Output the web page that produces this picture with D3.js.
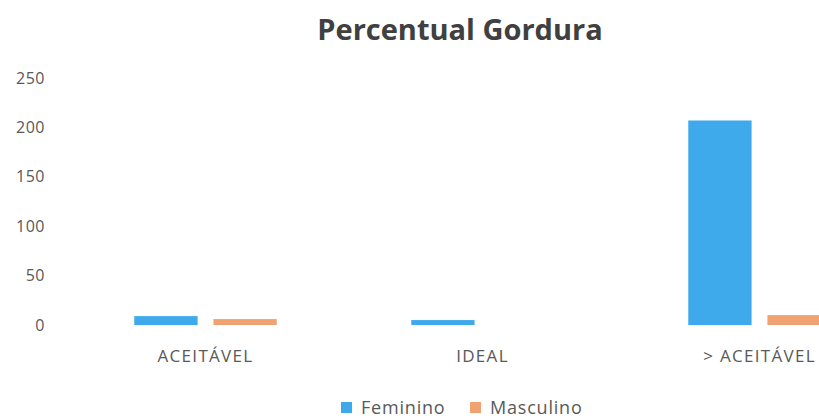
<!DOCTYPE html>
<html lang="pt">
  <head>
    <meta charset="utf-8">
    <title>Percentual Gordura</title>
    <style>
      body { margin: 0; background: #fff; }
      svg { display: block; font-family: "Open Sans", sans-serif; }
    </style>
  </head>
  <body>
    <div id="chart"></div>
  </body>
  <script src="https://cdnjs.cloudflare.com/ajax/libs/d3/7.8.5/d3.min.js"></script>
  <script type="text/javascript">

    const categories = ['ACEITÁVEL', 'IDEAL', '> ACEITÁVEL']
    const seriesNames = ['Feminino', 'Masculino']
    const feminino = [9, 5, 207]
    const masculino = [6, 0, 10]
    const yTicks = [0, 50, 100, 150, 200, 250]

    const width = 819
    const height = 418
    const colors = ['#3eaaec', '#f0a272']

    const rows = categories.map((c, i) => ({ cat: c, values: [feminino[i], masculino[i]] }))

    const svg = d3.select('#chart')
      .append('svg')
      .attr('width', width)
      .attr('height', height)

    // plot area runs past the right edge, like the cropped original
    const x = d3.scaleBand()
      .domain(categories)
      .range([67, 898])
      .paddingInner(0)
      .paddingOuter(0)

    const x1 = d3.scaleBand()
      .domain(seriesNames)
      .range([0, x.bandwidth()])
      .paddingInner(0.2)
      .paddingOuter(0.85)

    const y = d3.scaleLinear()
      .domain([0, 250])
      .range([325, 78])

    svg.append('text')
      .attr('x', 460)
      .attr('y', 40)
      .attr('text-anchor', 'middle')
      .style('font-size', '29px')
      .style('font-weight', 'bold')
      .style('fill', '#404040')
      .text('Percentual Gordura')

    // y axis labels
    svg.append('g')
      .selectAll('text')
      .data(yTicks)
      .join('text')
      .attr('x', 45)
      .attr('y', d => y(d))
      .attr('dy', '0.35em')
      .attr('text-anchor', 'end')
      .style('font-size', '16px')
      .style('letter-spacing', '0.5px')
      .style('fill', '#595959')
      .text(d => d)

    const groups = svg.append('g')
      .selectAll('g')
      .data(rows)
      .join('g')
      .attr('transform', d => `translate(${x(d.cat)},0)`)

    groups.selectAll('rect')
      .data(d => d.values.map((v, i) => ({ name: seriesNames[i], value: v, i })))
      .join('rect')
      .attr('x', d => x1(d.name))
      .attr('width', x1.bandwidth())
      .attr('y', d => y(d.value))
      .attr('height', d => y(0) - y(d.value))
      .attr('fill', d => colors[d.i])

    // category labels
    svg.append('g')
      .selectAll('text')
      .data(categories)
      .join('text')
      .attr('x', d => x(d) + x.bandwidth() / 2)
      .attr('y', 362)
      .attr('text-anchor', 'middle')
      .style('font-size', '17px')
      .style('letter-spacing', '1.3px')
      .style('fill', '#595959')
      .text(d => d)

    // legend
    const legend = svg.append('g').attr('transform', 'translate(341,408)')
    const legendX = [0, 129]
    seriesNames.forEach((name, i) => {
      legend.append('rect')
        .attr('x', legendX[i])
        .attr('y', -6)
        .attr('width', 11)
        .attr('height', 11)
        .attr('fill', colors[i])
      legend.append('text')
        .attr('x', legendX[i] + 20)
        .attr('y', 0)
        .attr('dy', '0.35em')
        .style('font-size', '18px')
        .style('letter-spacing', '0.8px')
        .style('fill', '#595959')
        .text(name)
    })

  </script>
</html>
